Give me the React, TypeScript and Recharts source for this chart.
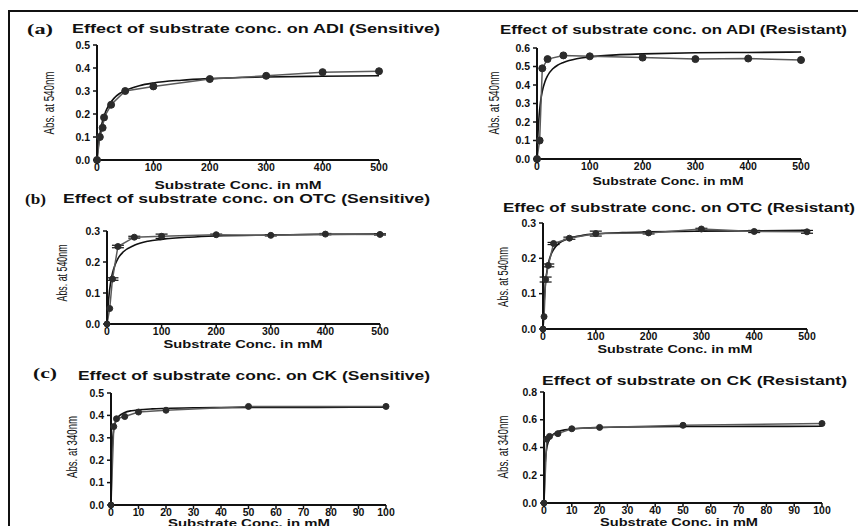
import React from "react";
import { ComposedChart, ErrorBar, Line, XAxis, YAxis } from "recharts";

// (a) ADI, sensitive strain
const adiSensConc = [0, 5, 10, 12.5, 25, 50, 100, 200, 300, 400, 500];
const adiSensAbs = [0, 0.1, 0.14, 0.185, 0.24, 0.3, 0.32, 0.352, 0.366, 0.382, 0.386];
const adiSensFitConc = [0, 1, 2, 4, 6, 8, 10, 15, 20, 30, 40, 50, 75, 100, 150, 200, 300, 400, 500];
const adiSensFitAbs = [0, 0.029, 0.054, 0.094, 0.125, 0.15, 0.171, 0.208, 0.234, 0.268, 0.289, 0.302, 0.323, 0.335, 0.347, 0.354, 0.361, 0.364, 0.366];

// (a) ADI, resistant strain
const adiResConc = [0, 5, 10, 20, 50, 100, 200, 300, 400, 500];
const adiResAbs = [0, 0.1, 0.49, 0.54, 0.56, 0.555, 0.548, 0.54, 0.543, 0.535];
const adiResFitConc = [0, 1, 2, 4, 6, 8, 10, 15, 20, 30, 40, 50, 75, 100, 150, 200, 300, 400, 500];
const adiResFitAbs = [0, 0.084, 0.146, 0.234, 0.293, 0.334, 0.366, 0.418, 0.45, 0.488, 0.509, 0.522, 0.542, 0.552, 0.563, 0.568, 0.574, 0.576, 0.578];

// (b) OTC, sensitive strain
const otcSensConc = [0, 5, 10, 20, 50, 100, 200, 300, 400, 500];
const otcSensAbs = [0, 0.05, 0.145, 0.25, 0.28, 0.283, 0.288, 0.286, 0.29, 0.289];
const otcSensErr = [0, 0, 0.004, 0.004, 0.003, 0.007, 0.002, 0.002, 0.002, 0.002];
const otcSensFitConc = [0, 1, 2, 4, 6, 8, 10, 15, 20, 30, 50, 75, 100, 150, 200, 300, 400, 500];
const otcSensFitAbs = [0, 0.033, 0.059, 0.098, 0.126, 0.148, 0.164, 0.192, 0.211, 0.233, 0.254, 0.267, 0.273, 0.28, 0.284, 0.287, 0.289, 0.29];

// (b) OTC, resistant strain
const otcResConc = [0, 2, 5, 10, 20, 50, 100, 200, 300, 400, 500];
const otcResAbs = [0, 0.035, 0.14, 0.18, 0.242, 0.257, 0.27, 0.272, 0.283, 0.276, 0.275];
const otcResErr = [0, 0, 0.007, 0.004, 0.003, 0.003, 0.007, 0.003, 0.002, 0.003, 0.004];
const otcResFitConc = [0, 1, 2, 4, 6, 8, 10, 15, 20, 30, 50, 75, 100, 150, 200, 300, 400, 500];
const otcResFitAbs = [0, 0.04, 0.072, 0.117, 0.148, 0.169, 0.185, 0.21, 0.225, 0.242, 0.257, 0.265, 0.269, 0.273, 0.275, 0.277, 0.278, 0.279];

// (c) CK, sensitive strain
const ckSensConc = [0, 1, 2, 5, 10, 20, 50, 100];
const ckSensAbs = [0, 0.35, 0.385, 0.395, 0.415, 0.423, 0.44, 0.44];
const ckSensFitConc = [0, 0.25, 0.5, 1, 1.5, 2, 3, 5, 7.5, 10, 15, 20, 30, 50, 75, 100];
const ckSensFitAbs = [0, 0.199, 0.274, 0.337, 0.365, 0.381, 0.398, 0.413, 0.421, 0.425, 0.429, 0.431, 0.434, 0.435, 0.436, 0.437];

// (c) CK, resistant strain
const ckResConc = [0, 1, 2, 5, 10, 20, 50, 100];
const ckResAbs = [0, 0.46, 0.48, 0.5, 0.535, 0.545, 0.56, 0.573];
const ckResFitConc = [0, 0.25, 0.5, 1, 1.5, 2, 3, 5, 7.5, 10, 15, 20, 30, 50, 75, 100];
const ckResFitAbs = [0, 0.213, 0.308, 0.396, 0.438, 0.462, 0.49, 0.514, 0.527, 0.534, 0.541, 0.544, 0.548, 0.551, 0.552, 0.553];

const ticks500 = [0, 100, 200, 300, 400, 500];
const ticks100 = [0, 10, 20, 30, 40, 50, 60, 70, 80, 90, 100];

const SANS = "'Liberation Sans', Arial, sans-serif";
const INK = "#111";

type Pt = { x: number; y: number; e?: number };

const toPoints = (xs: number[], ys: number[], es?: number[]): Pt[] =>
  xs.map((x, i) => ({ x, y: ys[i], e: es ? es[i] : 0 }));

type Plot = { l: number; r: number; t: number; b: number };

interface PanelProps {
  plot: Plot;
  xMax: number;
  xTicks: number[];
  yMax: number;
  yTicks: number[];
  points: Pt[];
  fit: Pt[];
  dotR: number;
  errors?: boolean;
}

const Y_W = 40;
const TOP = 10;
const RIGHT = 14;
const X_H = 20;

function Panel({ plot, xMax, xTicks, yMax, yTicks, points, fit, dotR, errors }: PanelProps) {
  const w = plot.r - plot.l;
  const h = plot.b - plot.t;
  const tick = { fill: INK, fontSize: 10.5, fontWeight: 700, fontFamily: SANS };
  return (
    <div style={{ position: "absolute", left: plot.l - Y_W, top: plot.t - TOP }}>
      <ComposedChart
        width={w + Y_W + RIGHT}
        height={h + TOP + X_H}
        margin={{ top: TOP, right: RIGHT, bottom: 0, left: 0 }}
      >
        <XAxis
          type="number"
          dataKey="x"
          domain={[0, xMax]}
          ticks={xTicks}
          height={X_H}
          tick={tick}
          tickSize={4}
          tickMargin={0}
          tickLine={{ stroke: INK, strokeWidth: 1.5 }}
          axisLine={{ stroke: INK, strokeWidth: 2 }}
          interval={0}
        />
        <YAxis
          type="number"
          dataKey="y"
          domain={[0, yMax]}
          ticks={yTicks}
          width={Y_W}
          tick={tick}
          tickSize={4}
          tickMargin={3}
          tickLine={{ stroke: INK, strokeWidth: 1.5 }}
          axisLine={{ stroke: INK, strokeWidth: 2 }}
          tickFormatter={(v: number) => v.toFixed(1)}
          interval={0}
        />
        <Line
          data={fit}
          dataKey="y"
          type="monotone"
          stroke={INK}
          strokeWidth={1.6}
          dot={false}
          activeDot={false}
          isAnimationActive={false}
        />
        <Line
          data={points}
          dataKey="y"
          type="linear"
          stroke="#5a5a5a"
          strokeWidth={1.5}
          dot={{ r: dotR, fill: "#2b2b2b", stroke: "#2b2b2b", strokeWidth: 1 }}
          activeDot={false}
          isAnimationActive={false}
        >
          {errors && <ErrorBar dataKey="e" width={6} stroke={INK} strokeWidth={1.2} direction="y" />}
        </Line>
      </ComposedChart>
    </div>
  );
}

function Title({ x, y, len, text }: { x: number; y: number; len: number; text: string }) {
  return (
    <text
      x={x}
      y={y}
      dominantBaseline="central"
      textLength={len}
      lengthAdjust="spacingAndGlyphs"
      fontFamily={SANS}
      fontWeight={700}
      fontSize={12.5}
      fill={INK}
    >
      {text}
    </text>
  );
}

function Tag({ x, y, len, text }: { x: number; y: number; len: number; text: string }) {
  return (
    <text
      x={x}
      y={y}
      dominantBaseline="central"
      textLength={len}
      lengthAdjust="spacingAndGlyphs"
      fontFamily="'Liberation Serif', 'Times New Roman', serif"
      fontWeight={700}
      fontSize={14}
      fill={INK}
    >
      {text}
    </text>
  );
}

function XTitle({ cx, y, len }: { cx: number; y: number; len: number }) {
  return (
    <text
      x={cx - len / 2}
      y={y}
      dominantBaseline="central"
      textLength={len}
      lengthAdjust="spacingAndGlyphs"
      fontFamily={SANS}
      fontWeight={700}
      fontSize={11}
      fill={INK}
    >
      Substrate Conc. in mM
    </text>
  );
}

function YTitle({ cx, cy, len, text }: { cx: number; cy: number; len: number; text: string }) {
  return (
    <text
      x={0}
      y={0}
      transform={`translate(${cx},${cy}) rotate(-90)`}
      textAnchor="middle"
      dominantBaseline="central"
      textLength={len}
      lengthAdjust="spacingAndGlyphs"
      fontFamily={SANS}
      fontSize={14.5}
      fill={INK}
    >
      {text}
    </text>
  );
}

export default function App() {
  return (
    <div style={{ position: "fixed", left: 0, top: 0, width: 858, height: 526, background: "#fff", overflow: "hidden" }}>
      <Panel
        plot={{ l: 97, r: 379, t: 45, b: 160 }}
        xMax={500}
        xTicks={ticks500}
        yMax={0.5}
        yTicks={[0, 0.1, 0.2, 0.3, 0.4, 0.5]}
        points={toPoints(adiSensConc, adiSensAbs)}
        fit={toPoints(adiSensFitConc, adiSensFitAbs)}
        dotR={3.5}
      />
      <Panel
        plot={{ l: 537, r: 801, t: 48, b: 159 }}
        xMax={500}
        xTicks={ticks500}
        yMax={0.6}
        yTicks={[0, 0.1, 0.2, 0.3, 0.4, 0.5, 0.6]}
        points={toPoints(adiResConc, adiResAbs)}
        fit={toPoints(adiResFitConc, adiResFitAbs)}
        dotR={3.5}
      />
      <Panel
        plot={{ l: 107, r: 380, t: 231, b: 324 }}
        xMax={500}
        xTicks={ticks500}
        yMax={0.3}
        yTicks={[0, 0.1, 0.2, 0.3]}
        points={toPoints(otcSensConc, otcSensAbs, otcSensErr)}
        fit={toPoints(otcSensFitConc, otcSensFitAbs)}
        dotR={3}
        errors
      />
      <Panel
        plot={{ l: 543, r: 807, t: 223, b: 329 }}
        xMax={500}
        xTicks={ticks500}
        yMax={0.3}
        yTicks={[0, 0.1, 0.2, 0.3]}
        points={toPoints(otcResConc, otcResAbs, otcResErr)}
        fit={toPoints(otcResFitConc, otcResFitAbs)}
        dotR={3}
        errors
      />
      <Panel
        plot={{ l: 111, r: 386, t: 393, b: 505 }}
        xMax={100}
        xTicks={ticks100}
        yMax={0.5}
        yTicks={[0, 0.1, 0.2, 0.3, 0.4, 0.5]}
        points={toPoints(ckSensConc, ckSensAbs)}
        fit={toPoints(ckSensFitConc, ckSensFitAbs)}
        dotR={3}
      />
      <Panel
        plot={{ l: 544, r: 822, t: 392, b: 503 }}
        xMax={100}
        xTicks={ticks100}
        yMax={0.8}
        yTicks={[0, 0.2, 0.4, 0.6, 0.8]}
        points={toPoints(ckResConc, ckResAbs)}
        fit={toPoints(ckResFitConc, ckResFitAbs)}
        dotR={3}
      />
      <svg
        width={858}
        height={526}
        style={{ position: "absolute", left: 0, top: 0, pointerEvents: "none" }}
      >
        <line x1={8} y1={11} x2={858} y2={11} stroke={INK} strokeWidth={2} />
        <line x1={9} y1={10} x2={9} y2={526} stroke={INK} strokeWidth={2} />

        <Tag x={27} y={29} len={26} text="(a)" />
        <Title x={72} y={29} len={368} text="Effect of substrate conc. on ADI (Sensitive)" />
        <Title x={500} y={30} len={347} text="Effect of substrate conc. on ADI (Resistant)" />
        <YTitle cx={49} cy={103} len={63} text="Abs. at 540nm" />
        <YTitle cx={494} cy={103} len={63} text="Abs. at 540nm" />
        <XTitle cx={238} y={185} len={167} />
        <XTitle cx={668} y={181} len={151} />

        <Tag x={25} y={199} len={21} text="(b)" />
        <Title x={63} y={199} len={367} text="Effect of substrate conc. on OTC (Sensitive)" />
        <Title x={503} y={208} len={352} text="Effec of substrate conc. on OTC (Resistant)" />
        <YTitle cx={62} cy={273} len={57} text="Abs. at 540nm" />
        <YTitle cx={503} cy={277} len={60} text="Abs. at 540nm" />
        <XTitle cx={243} y={344} len={159} />
        <XTitle cx={675} y={349} len={155} />

        <Tag x={33} y={373} len={24} text="(c)" />
        <Title x={78} y={376} len={352} text="Effect of substrate conc. on CK (Sensitive)" />
        <Title x={542} y={381} len={305} text="Effect of substrate on CK (Resistant)" />
        <YTitle cx={72} cy={447} len={62} text="Abs. at 340nm" />
        <YTitle cx={503} cy={447} len={63} text="Abs. at 340nm" />
        <XTitle cx={249} y={523} len={162} />
        <XTitle cx={679} y={522} len={158} />
      </svg>
    </div>
  );
}
